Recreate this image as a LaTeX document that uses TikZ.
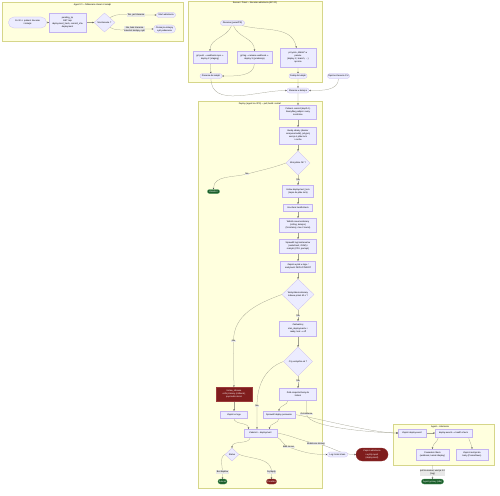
\documentclass[tikz,border=0pt]{standalone}
\usepackage{fontspec}
\setmainfont{Liberation Sans}
\newfontfamily\dvfont{DejaVu Sans}
\newcommand\myarr{{\dvfont →}}
\usetikzlibrary{shapes.geometric,shapes.misc,arrows.meta}
\definecolor{nodefill}{HTML}{ECECFF}
\definecolor{nodeborder}{HTML}{C4B4F0}
\definecolor{subfill}{HTML}{FFFFDE}
\definecolor{subborder}{HTML}{D6D68A}
\definecolor{edgecol}{HTML}{A0A090}
\definecolor{arrcol}{HTML}{555555}
\definecolor{labelbg}{HTML}{E8E8E8}
\definecolor{redfill}{HTML}{7F1D1D}
\definecolor{redborder}{HTML}{9A3A3A}
\definecolor{grnfill}{HTML}{1B5E2B}
\definecolor{grnborder}{HTML}{4CA060}
\pgfdeclarelayer{sglayer}
\pgfdeclarelayer{edgelayer}
\pgfsetlayers{sglayer,edgelayer,main}
\tikzset{
 fnt/.style={font=\fontsize{2.2}{3.1}\selectfont},
 box/.style={fnt, draw=nodeborder, fill=nodefill, line width=0.2pt, align=center, inner sep=0.4pt},
 stad/.style={box, rounded rectangle},
 dia/.style={box, diamond, inner sep=0pt},
 lab/.style={fnt, fill=labelbg, inner sep=0.5pt, align=center},
 sub/.style={draw=subborder, fill=subfill, line width=0.2pt, inner sep=0pt, outer sep=0pt},
 ttl/.style={fnt, inner sep=0pt},
 redn/.style={fill=redfill, draw=redborder, text=white},
 grn/.style={fill=grnfill, draw=grnborder, text=white},
 conn/.style={draw=edgecol, line width=0.25pt, -{Stealth[length=1.6pt,width=1.5pt,color=arrcol]}},
}
\begin{document}
\begin{tikzpicture}[x=1pt,y=1pt]
\path[use as bounding box] (0,0) rectangle (500,-495);

\begin{pgfonlayer}{sglayer}
\fill[white] (0,0) rectangle (500,-495);
\node[sub, minimum width=181pt, minimum height=39pt] (sg1) at (92.5,-21.5) {};
\node[sub, minimum width=134pt, minimum height=81pt] (sg2) at (255,-41.5) {};
\node[sub, minimum width=124pt, minimum height=387pt] (sg3) at (260,-294.5) {};
\node[sub, minimum width=101pt, minimum height=41pt] (sg4) at (443.5,-444.5) {};
\end{pgfonlayer}

% --- top-left subgraph
\node[ttl] (t1) at (92.5,-5) {Agent CI – Odbieranie zleceń z kolejki};
\node[stad, minimum width=39pt, minimum height=11pt] (A) at (27.5,-22.5) {Co 30 s: pobierz zlecenie\\z kolejki};
\node[box, minimum width=37pt, minimum height=19pt] (B) at (67.5,-22.5) {pending\_zp\\GET /api\\deployment\_hash, commit\_sha\\deployment};
\node[dia, minimum width=21pt, minimum height=19pt] (D0) at (104.5,-22.5) {Ma zlecenie ?};
\node[lab] (L1) at (136,-15) {Tak, jest zlecenie};
\node[stad, minimum width=20pt, minimum height=5pt] (Z) at (166,-15) {Start wdrożenia};
\node[lab] (L2) at (134.5,-29) {Nie, brak zlecenia\\zakończ bieżący cykl};
\node[stad, minimum width=23pt, minimum height=8pt] (C) at (164.5,-29) {Czekaj na kolejny\\cykl pobierania};

% --- top-middle subgraph
\node[ttl] (t2) at (255,-3) {Serwer / Panel – zlecenie wdrożenia (API CI)};
\node[stad, minimum width=25pt, minimum height=5pt] (T) at (232.5,-23) {Zlecenie (panel/PR)};
\node[box, minimum width=34pt, minimum height=12pt] (Ra) at (210,-57) {git push \myarr{} webhook repo \myarr\\deploy X (staging)};
\node[box, minimum width=35pt, minimum height=12pt] (Rb) at (254.5,-57) {git tag \myarr{} release webhook \myarr\\deploy X (produkcja)};
\node[box, minimum width=36pt, minimum height=19pt] (Rc) at (298,-57.5) {przycisk „Wdróż” w\\panelu\\(deploy X, branch, …)\\ręcznie};
\node[stad, minimum width=23pt, minimum height=5pt] (Q1) at (211,-76) {Zlecenie do kolejki};
\node[stad, minimum width=19pt, minimum height=5pt] (Q2) at (298,-76) {Dodaj do kolejki};
\node[stad, minimum width=23pt, minimum height=5pt] (Q3) at (338.5,-76) {Ręczne zlecenie CLI};
\node[stad, minimum width=23pt, minimum height=5pt] (M0) at (298,-90.5) {Zlecenie w kolejce};

% --- big subgraph
\node[ttl] (t3) at (260,-103.5) {Deploy (agent na VPS) – pull, build i restart};
\node[box, minimum width=37pt, minimum height=14pt] (N1) at (298,-112) {Pobierz commit (depth 1)\\Zweryfikuj podpis i sumy\\kontrolne};
\node[box, minimum width=37pt, minimum height=17pt] (N2) at (298,-135.5) {Buduj obrazy (docker\\compose build), przypnij\\wersje z pliku lock\\i cache};
\node[dia, minimum width=24pt, minimum height=24pt] (D1) at (298,-163) {Wszystkie OK ?};
\node[lab] (lN1) at (247,-174) {Nie};
\node[stad, grn, minimum width=13pt, minimum height=4pt] (G1) at (213.5,-191.5) {Zakończ};
\node[lab] (lY1) at (298,-180) {Tak};
\node[box, minimum width=31pt, minimum height=12pt] (N3) at (298,-191) {Ustaw deployment\_lock\\(zapis do pliku lock)};
\node[box, minimum width=29pt, minimum height=7pt] (N4) at (298,-207.5) {Uruchom healthcheck};
\node[box, minimum width=37pt, minimum height=14pt] (N5) at (298,-225) {Wdróż nowe kontenery\\(rolling, kolejno)\\(N instancji, max 2 naraz)};
\node[box, minimum width=37pt, minimum height=14pt] (N6) at (298,-246) {Sprawdź logi kontenerów\\(restart/exit, OOM) i\\metryki (CPU, pamięć)};
\node[box, minimum width=35pt, minimum height=11pt] (N7) at (298,-266.5) {Zapisz wynik w logu /\\metrykach DEPLOYMENT};
\node[dia, minimum width=32pt, minimum height=31pt] (D2) at (298,-294.5) {Wszystkie kontenery\\zdrowe przez 60 s ?};
\node[lab] (lN2) at (233.5,-341) {Nie};
\node[box, redn, minimum width=36pt, minimum height=14pt] (Rd) at (234,-394) {Ustaw\_zdrowie\\cofnij zmiany (rollback),\\poprzedni obraz};
\node[lab] (lY2) at (298,-316) {Tak};
\node[box, minimum width=37pt, minimum height=15pt] (N8) at (298,-328.5) {Zaktualizuj\\stan\_deploymentu =\\ready, lock \myarr{} off};
\node[dia, minimum width=29pt, minimum height=29pt] (D3) at (298,-361.5) {Czy wszystko ok ?};
\node[lab] (lY3) at (298,-381) {Tak};
\node[box, minimum width=37pt, minimum height=12pt] (N9) at (298,-394) {Zrób snapshot bazy do\\historii};
\node[lab] (lN3) at (257,-406) {Nie};
\node[box, minimum width=27pt, minimum height=7pt] (N10) at (234,-414.5) {Zapisz w logu};
\node[box, minimum width=32pt, minimum height=7pt] (N11) at (279,-414.5) {Sprawdź deploy ponownie};
\node[lab] (lW) at (306.5,-414) {Ostrzeżenie};
\node[box, minimum width=33pt, minimum height=8pt] (M) at (260.5,-433) {Zakończ – deployment};
\node[dia, minimum width=14pt, minimum height=13pt] (D4) at (232,-454.5) {Status};
\node[lab] (lOk) at (222.5,-472) {Bez błędów};
\node[lab] (lFail) at (271.5,-472) {Są błędy};
\node[stad, grn, minimum width=10pt, minimum height=5pt] (G2) at (222.5,-481.5) {Sukces};
\node[stad, redn, minimum width=11pt, minimum height=5pt] (G2r) at (271.5,-481.5) {Porażka};
\node[lab] (lNC) at (288.5,-447) {Brak zmian};
\node[stad, minimum width=21pt, minimum height=5pt] (BZ) at (337.5,-454.5) {Log: brak zmian};
\node[lab] (lC) at (316,-443.5) {Wdrożono zmiany};
\node[stad, redn, minimum width=33pt, minimum height=13pt] (Rd2) at (372,-454.5) {Zapisz wdrożenie\\i wyślij raport\\(deployment)};

% --- bottom-right subgraph
\node[ttl] (t4) at (440,-427) {Agent – zdarzenia};
\node[box, minimum width=28pt, minimum height=8pt] (S1) at (412,-433) {Zapisz deploy.event};
\node[box, minimum width=37pt, minimum height=8pt] (S2) at (453.5,-433) {deploy.events \myarr{} health check};
\node[box, minimum width=33pt, minimum height=11pt] (S3) at (432.5,-454.5) {Powiadom Slack\\(webhook, kanał \#deploy)};
\node[box, minimum width=32pt, minimum height=11pt] (S4) at (472,-454.5) {Zapisz metryki do\\bazy (Prometheus)};
\node[lab] (lP) at (432.5,-472.5) {pull na serwer, wersja 1.2\\(tag)};
\node[stad, grn, minimum width=23pt, minimum height=5pt] (G3) at (432.5,-481.5) {Agent gotowy (idle)};

\begin{pgfonlayer}{edgelayer}
\draw[conn] (A) -- (B);
\draw[conn] (B) -- (D0);
\draw[conn] (D0.north east) to[out=30,in=180] (L1.center) -- (Z.west);
\draw[conn] (D0.south east) to[out=-30,in=180] (L2.center) -- (C.west);

\draw[conn] (T) to[out=250,in=90] (Ra);
\draw[conn] (T) to[out=290,in=90] (Rb);
\draw[conn] (T) to[out=-15,in=100] (Rc);
\draw[conn] (Ra) -- (Q1);
\draw[conn] (Rb) to[out=270,in=0] (Q1);
\draw[conn] (Rc) -- (Q2);
\draw[conn] (Q1) to[out=270,in=180] (M0);
\draw[conn] (Q2) -- (M0);
\draw[conn] (Q3) to[out=270,in=0] (M0);
\draw[conn] (M0) -- (N1);

\draw[conn] (N1) -- (N2);
\draw[conn] (N2) -- (D1);
\draw[conn] (D1.west) to[out=200,in=15] (lN1.center) to[out=195,in=90] (G1.north);
\draw[conn] (D1.south) -- (lY1.center) -- (N3);
\draw[conn] (N3) -- (N4);
\draw[conn] (N4) -- (N5);
\draw[conn] (N5) -- (N6);
\draw[conn] (N6) -- (N7);
\draw[conn] (N7) -- (D2);
\draw[conn] (D2.west) to[out=200,in=90] (lN2.center) -- (Rd);
\draw[conn] (D2.south) -- (lY2.center) -- (N8);
\draw[conn] (N8) -- (D3);
\draw[conn] (D3.south) -- (lY3.center) -- (N9);
\draw[conn] (D3.west) to[out=200,in=90] (lN3.center) -- (lN3.center |- M.north);
\draw[conn] (Rd) -- (N10);
\draw[conn] ([xshift=-10pt]N9.south) to[out=270,in=90] (N11);
\draw[conn] ([xshift=8.5pt]N9.south) -- (lW.center) to[out=270,in=180,looseness=0.4] (S1.west);
\draw[conn] (N11.east) to[out=-10,in=180,looseness=0.6] (S1.west);
\draw[conn] (N10) to[out=270,in=90] ([xshift=-12pt]M.north);
\draw[conn] (N11) to[out=270,in=90] ([xshift=9pt]M.north);
\draw[conn] ([xshift=-10pt]M.south) to[out=260,in=90] (D4.north);
\draw[conn] (D4.west) to[out=210,in=90] (lOk.center) -- (G2);
\draw[conn] (D4.east) to[out=-20,in=90] (lFail.center) -- (G2r);
\draw[conn] (M.south east) to[out=-30,in=160] (lNC.center) to[out=-20,in=180] (BZ.west);
\draw[conn] (M.east) to[out=-10,in=170] (lC.center) to[out=-10,in=180] (Rd2.west);

\draw[conn] (S1) -- (S2);
\draw[conn] ([xshift=-15pt]S2.south) to[out=260,in=90] (S3);
\draw[conn] ([xshift=15pt]S2.south) to[out=280,in=90] (S4);
\draw[conn] (sg4.south -| lP.center) -- (lP.center) -- (G3);
\end{pgfonlayer}
\end{tikzpicture}
\end{document}
